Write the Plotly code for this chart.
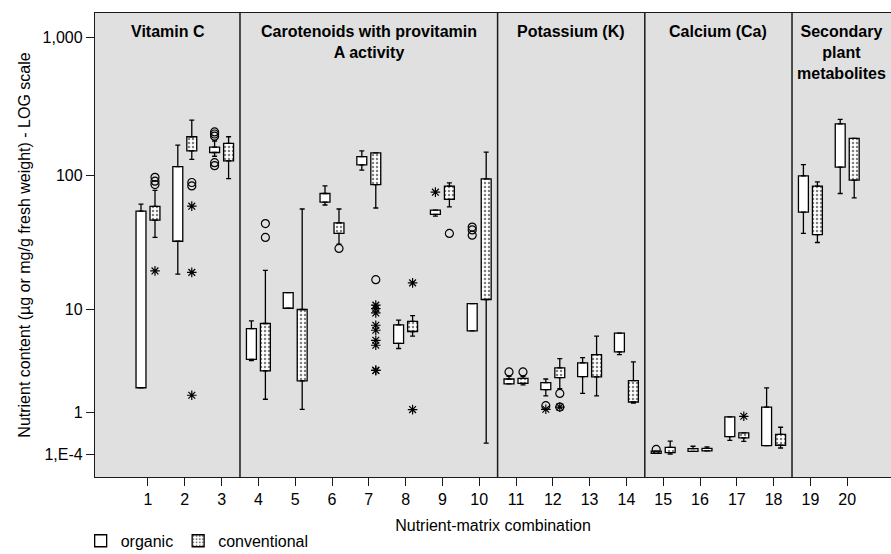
import plotly.graph_objects as go

# ---------------- data ----------------
categories = list(range(1, 21))

org_q1 = [2.0, 33, 147, 3.8, 10.2, 64, 119.5, 5.25, 52, 6.7,
          2.2, 1.91, 2.61, 4.43, 0.01, 0.047, 0.336, 0.151, 54, 115]
org_q3 = [55, 116, 161, 7.0, 13.5, 74, 137, 7.5, 56, 11.1,
          2.47, 2.27, 3.53, 6.41, 0.05, 0.095, 0.85, 1.18, 99.5, 237]
org_low = [2.0, 18.7, 138, 3.7, 10.2, 61, 109.5, 4.75, 50.5, 6.7,
           2.2, 1.62, 1.73, 4.2, 0.01, 0.047, 0.256, 0.151, 37.7, 74]
org_high = [62, 166, 178, 8.1, 13.5, 84, 151, 8.2, 56, 11.1,
            2.63, 2.47, 3.95, 6.41, 0.05, 0.138, 0.85, 1.99, 120, 255]

conv_q1 = [47.2, 151, 128, 2.97, 2.36, 37.7, 86, 6.62, 67, 11.95,
           2.23, 2.55, 2.59, 1.37, 0.025, 0.053, 0.306, 0.157, 37, 92.5]
conv_q3 = [59.5, 191, 171, 7.7, 9.97, 45.1, 146, 8.0, 83.7, 94.7,
           2.50, 3.17, 4.2, 2.38, 0.119, 0.10, 0.42, 0.388, 83.7, 186]
conv_low = [35.2, 131, 95, 1.48, 1.10, 31.4, 58, 6.05, 59, 0.2,
            2.15, 1.96, 1.62, 1.33, 0.0, 0.053, 0.236, 0.106, 32.3, 68.8]
conv_high = [78, 252, 191, 20, 57, 57, 146, 8.9, 88.5, 148,
             2.63, 3.87, 6.05, 3.6, 0.24, 0.125, 0.42, 0.56, 90, 186]

# outliers: (category, value)
org_circle_cat = [3, 3, 3, 3, 3, 10, 10, 10, 11, 12, 15]
org_circle_val = [207, 200, 193, 124, 118, 42, 40, 36.6, 2.9, 1.23, 0.08]
org_star_cat = [9, 12]
org_star_val = [75.7, 1.10]

conv_circle_cat = [1, 1, 1, 2, 2, 4, 4, 6, 7, 9, 11, 12, 12]
conv_circle_val = [97, 91, 86, 89, 84, 44.6, 35.2, 29.2, 17.0, 37.7, 2.9, 1.73, 1.18]
conv_star_cat = [1, 2, 2, 2, 7, 7, 7, 7, 7, 7, 7, 7, 7, 8, 8, 12, 17]
conv_star_val = [19.8, 59.8, 19.3, 1.65, 10.8, 10.15, 9.37, 7.45, 6.78, 5.59, 5.07,
                 3.0, 3.0, 16.06, 1.09, 1.18, 0.87]

panel_titles = ["Vitamin C", "Carotenoids with provitamin<br>A activity",
                "Potassium (K)", "Calcium (Ca)", "Secondary<br>plant<br>metabolites"]
panel_bounds = [3.5, 10.5, 14.5, 18.5]

y_tick_values = [0.0001, 1, 10, 100, 1000]
y_tick_text = ["1,E-4", "1", "10", "100", "1,000"]

# ---------------- styling / helpers ----------------
FONT = "Liberation Sans, Arial, sans-serif"
OFF = 0.19      # horizontal offset of each box from the category tick
BW = 0.27       # box width (data units)
X_RANGE = [-0.44, 21.19]
Y_RANGE = [-0.165, 3.174]   # log10(value + 1)


def sh(a):
    """log(x+1) scale: shift by one, then use plotly's log axis"""
    return [v + 1 for v in a]


fig = go.Figure()


def add_series(name, q1, q3, low, high, dx, patterned):
    xs = [c + dx for c in categories]
    marker = dict(color="white", line=dict(color="black", width=1.3))
    if patterned:
        marker["pattern"] = dict(shape=".", fgcolor="black", bgcolor="white",
                                 size=4, solidity=0.3)
    fig.add_trace(go.Bar(
        x=xs, base=sh(q1), y=[b - a for a, b in zip(q1, q3)], width=BW,
        marker=marker, name=name, showlegend=True, hoverinfo="skip"))
    # upper whiskers
    fig.add_trace(go.Scatter(
        x=xs, y=sh(q3), mode="markers",
        marker=dict(size=1, color="rgba(0,0,0,0)"),
        error_y=dict(type="data", symmetric=False,
                     array=[h - t for h, t in zip(high, q3)],
                     arrayminus=[0] * len(q3),
                     color="black", thickness=1.3, width=2.5),
        showlegend=False, hoverinfo="skip"))
    # lower whiskers
    fig.add_trace(go.Scatter(
        x=xs, y=sh(q1), mode="markers",
        marker=dict(size=1, color="rgba(0,0,0,0)"),
        error_y=dict(type="data", symmetric=False,
                     array=[0] * len(q1),
                     arrayminus=[b - l for b, l in zip(q1, low)],
                     color="black", thickness=1.3, width=2.5),
        showlegend=False, hoverinfo="skip"))


add_series("organic", org_q1, org_q3, org_low, org_high, -OFF, False)
add_series("conventional", conv_q1, conv_q3, conv_low, conv_high, OFF, True)


def add_outliers(cats, vals, dx, symbol, size):
    fig.add_trace(go.Scatter(
        x=[c + dx for c in cats], y=sh(vals), mode="markers",
        marker=dict(symbol=symbol, size=size, color="black",
                    line=dict(color="black", width=1.2)),
        showlegend=False, hoverinfo="skip"))


add_outliers(org_circle_cat, org_circle_val, -OFF, "circle-open", 8)
add_outliers(org_star_cat, org_star_val, -OFF, "asterisk-open", 8)
add_outliers(conv_circle_cat, conv_circle_val, OFF, "circle-open", 8)
add_outliers(conv_star_cat, conv_star_val, OFF, "asterisk-open", 8)

# panel separators
for b in panel_bounds:
    fig.add_shape(type="line", xref="x", yref="paper", x0=b, x1=b, y0=0, y1=1,
                  line=dict(color="#1a1a1a", width=1.5))

# panel titles
edges = [X_RANGE[0]] + panel_bounds + [X_RANGE[1]]
for i, t in enumerate(panel_titles):
    fig.add_annotation(x=(edges[i] + edges[i + 1]) / 2, xref="x",
                       y=0.982, yref="paper", yanchor="top",
                       text="<b>%s</b>" % t, showarrow=False,
                       font=dict(family=FONT, size=16, color="black"))

fig.update_layout(
    width=891, height=554,
    margin=dict(l=95, r=0, t=13, b=77, autoexpand=False),
    paper_bgcolor="white", plot_bgcolor="#e0e0e0",
    barmode="overlay",
    font=dict(family=FONT, size=16, color="black"),
    showlegend=True,
    legend=dict(orientation="h", x=-0.018, xanchor="left",
                y=-0.101, yanchor="top",
                font=dict(family=FONT, size=16), itemwidth=30,
                bgcolor="rgba(0,0,0,0)", tracegroupgap=0),
)
fig.update_xaxes(
    range=X_RANGE, tickmode="array", tickvals=categories,
    ticktext=[str(c) for c in categories],
    showgrid=False, zeroline=False, showline=True, mirror=True,
    linecolor="#1a1a1a", linewidth=1.3,
    ticks="outside", ticklen=8, tickcolor="#1a1a1a", tickwidth=1.3,
    tickfont=dict(family=FONT, size=16), automargin=False,
    title=dict(text="Nutrient-matrix combination", font=dict(family=FONT, size=16), standoff=12),
)
fig.update_yaxes(
    type="log", range=Y_RANGE, tickmode="array",
    tickvals=sh(y_tick_values), ticktext=y_tick_text,
    showgrid=False, zeroline=False, showline=True, mirror=True,
    linecolor="#1a1a1a", linewidth=1.3,
    ticks="outside", ticklen=8, tickcolor="#1a1a1a", tickwidth=1.3,
    tickfont=dict(family=FONT, size=16), automargin=False,
    title=dict(text="Nutrient content (µg or mg/g fresh weight) - LOG scale",
               font=dict(family=FONT, size=16), standoff=8),
)

# remove the default 8px page margin so the figure sits at the window's top-left corner
fig.write_html("out.html", config={"displayModeBar": False},
               post_script="document.body.style.margin='0';document.body.style.overflow='hidden';")
